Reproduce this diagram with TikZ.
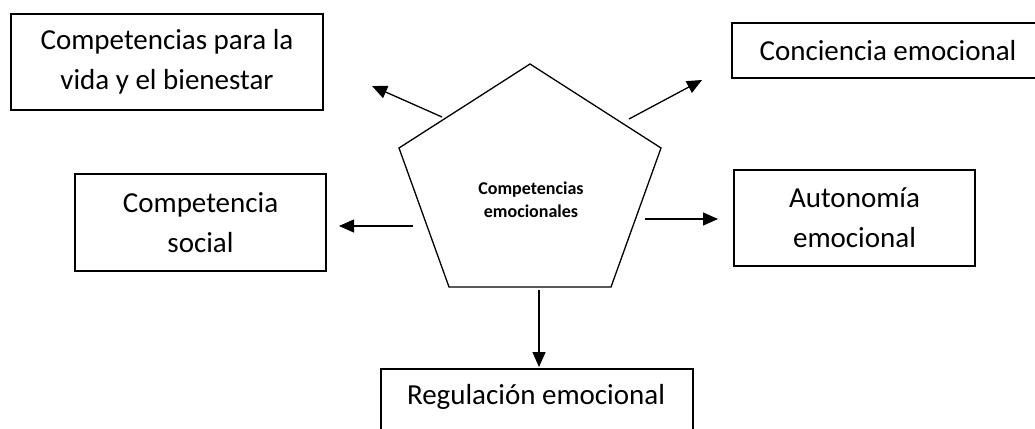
\documentclass[tikz,border=0pt]{standalone}
\usepackage{fontspec}
\setmainfont{Carlito}
\usetikzlibrary{arrows.meta}
\begin{document}
\begin{tikzpicture}[x=1pt,y=-1pt,
  box/.style={draw,line width=1.4pt,inner sep=0pt},
  big/.style={font=\fontsize{29}{40}\selectfont,align=center},
  conn/.style={line width=1.3pt,-{Triangle[length=15pt,width=13pt]}},
  pentline/.style={line width=1.3pt,line join=miter}]
\useasboundingbox (0,0) rectangle (1035,428);
% boxes
\node[box,minimum width=312pt,minimum height=96pt] (vida) at (167,62) {};
\node[big] at (vida.center) {Competencias para la\\vida y el bienestar};
\node[box,minimum width=251pt,minimum height=97pt] (social) at (200.5,222.5) {};
\node[big] at (social.center) {Competencia\\social};
\node[box,minimum width=320pt,minimum height=55pt] (conc) at (892,50.5) {};
\node[big] at (888,51) {Conciencia emocional};
\node[box,minimum width=241pt,minimum height=96pt] (auto) at (854.5,218) {};
\node[big] at (auto.center) {Autonomía\\emocional};
\node[box,minimum width=312pt,minimum height=90pt] (regu) at (537,414) {};
\node[big] at (536,397) {Regulación emocional};
% pentagon
\coordinate (pt) at (530,64);
\coordinate (pl) at (399,148);
\coordinate (pr) at (661,148);
\coordinate (pbl) at (449,287);
\coordinate (pbr) at (611,287);
\draw[pentline] (pt) -- (pr) -- (pbr) -- (pbl) -- (pl) -- cycle;
\node[font=\fontsize{18}{23}\selectfont\bfseries,align=center] (cen) at (531,200) {Competencias\\emocionales};
% arrow start points
\coordinate (s1) at (442,117);
\coordinate (e1) at (372,86);
\coordinate (s2) at (629,119);
\coordinate (e2) at (702,80);
\coordinate (s3) at (413,226);
\coordinate (e3) at (339,226);
\coordinate (s4) at (645,219);
\coordinate (e4) at (718,219);
\coordinate (s5) at (539,290);
\coordinate (e5) at (539,367);
\draw[conn] (s1) -- (e1);
\draw[conn] (s2) -- (e2);
\draw[conn] (s3) -- (e3);
\draw[conn] (s4) -- (e4);
\draw[conn] (s5) -- (e5);
\end{tikzpicture}
\end{document}
